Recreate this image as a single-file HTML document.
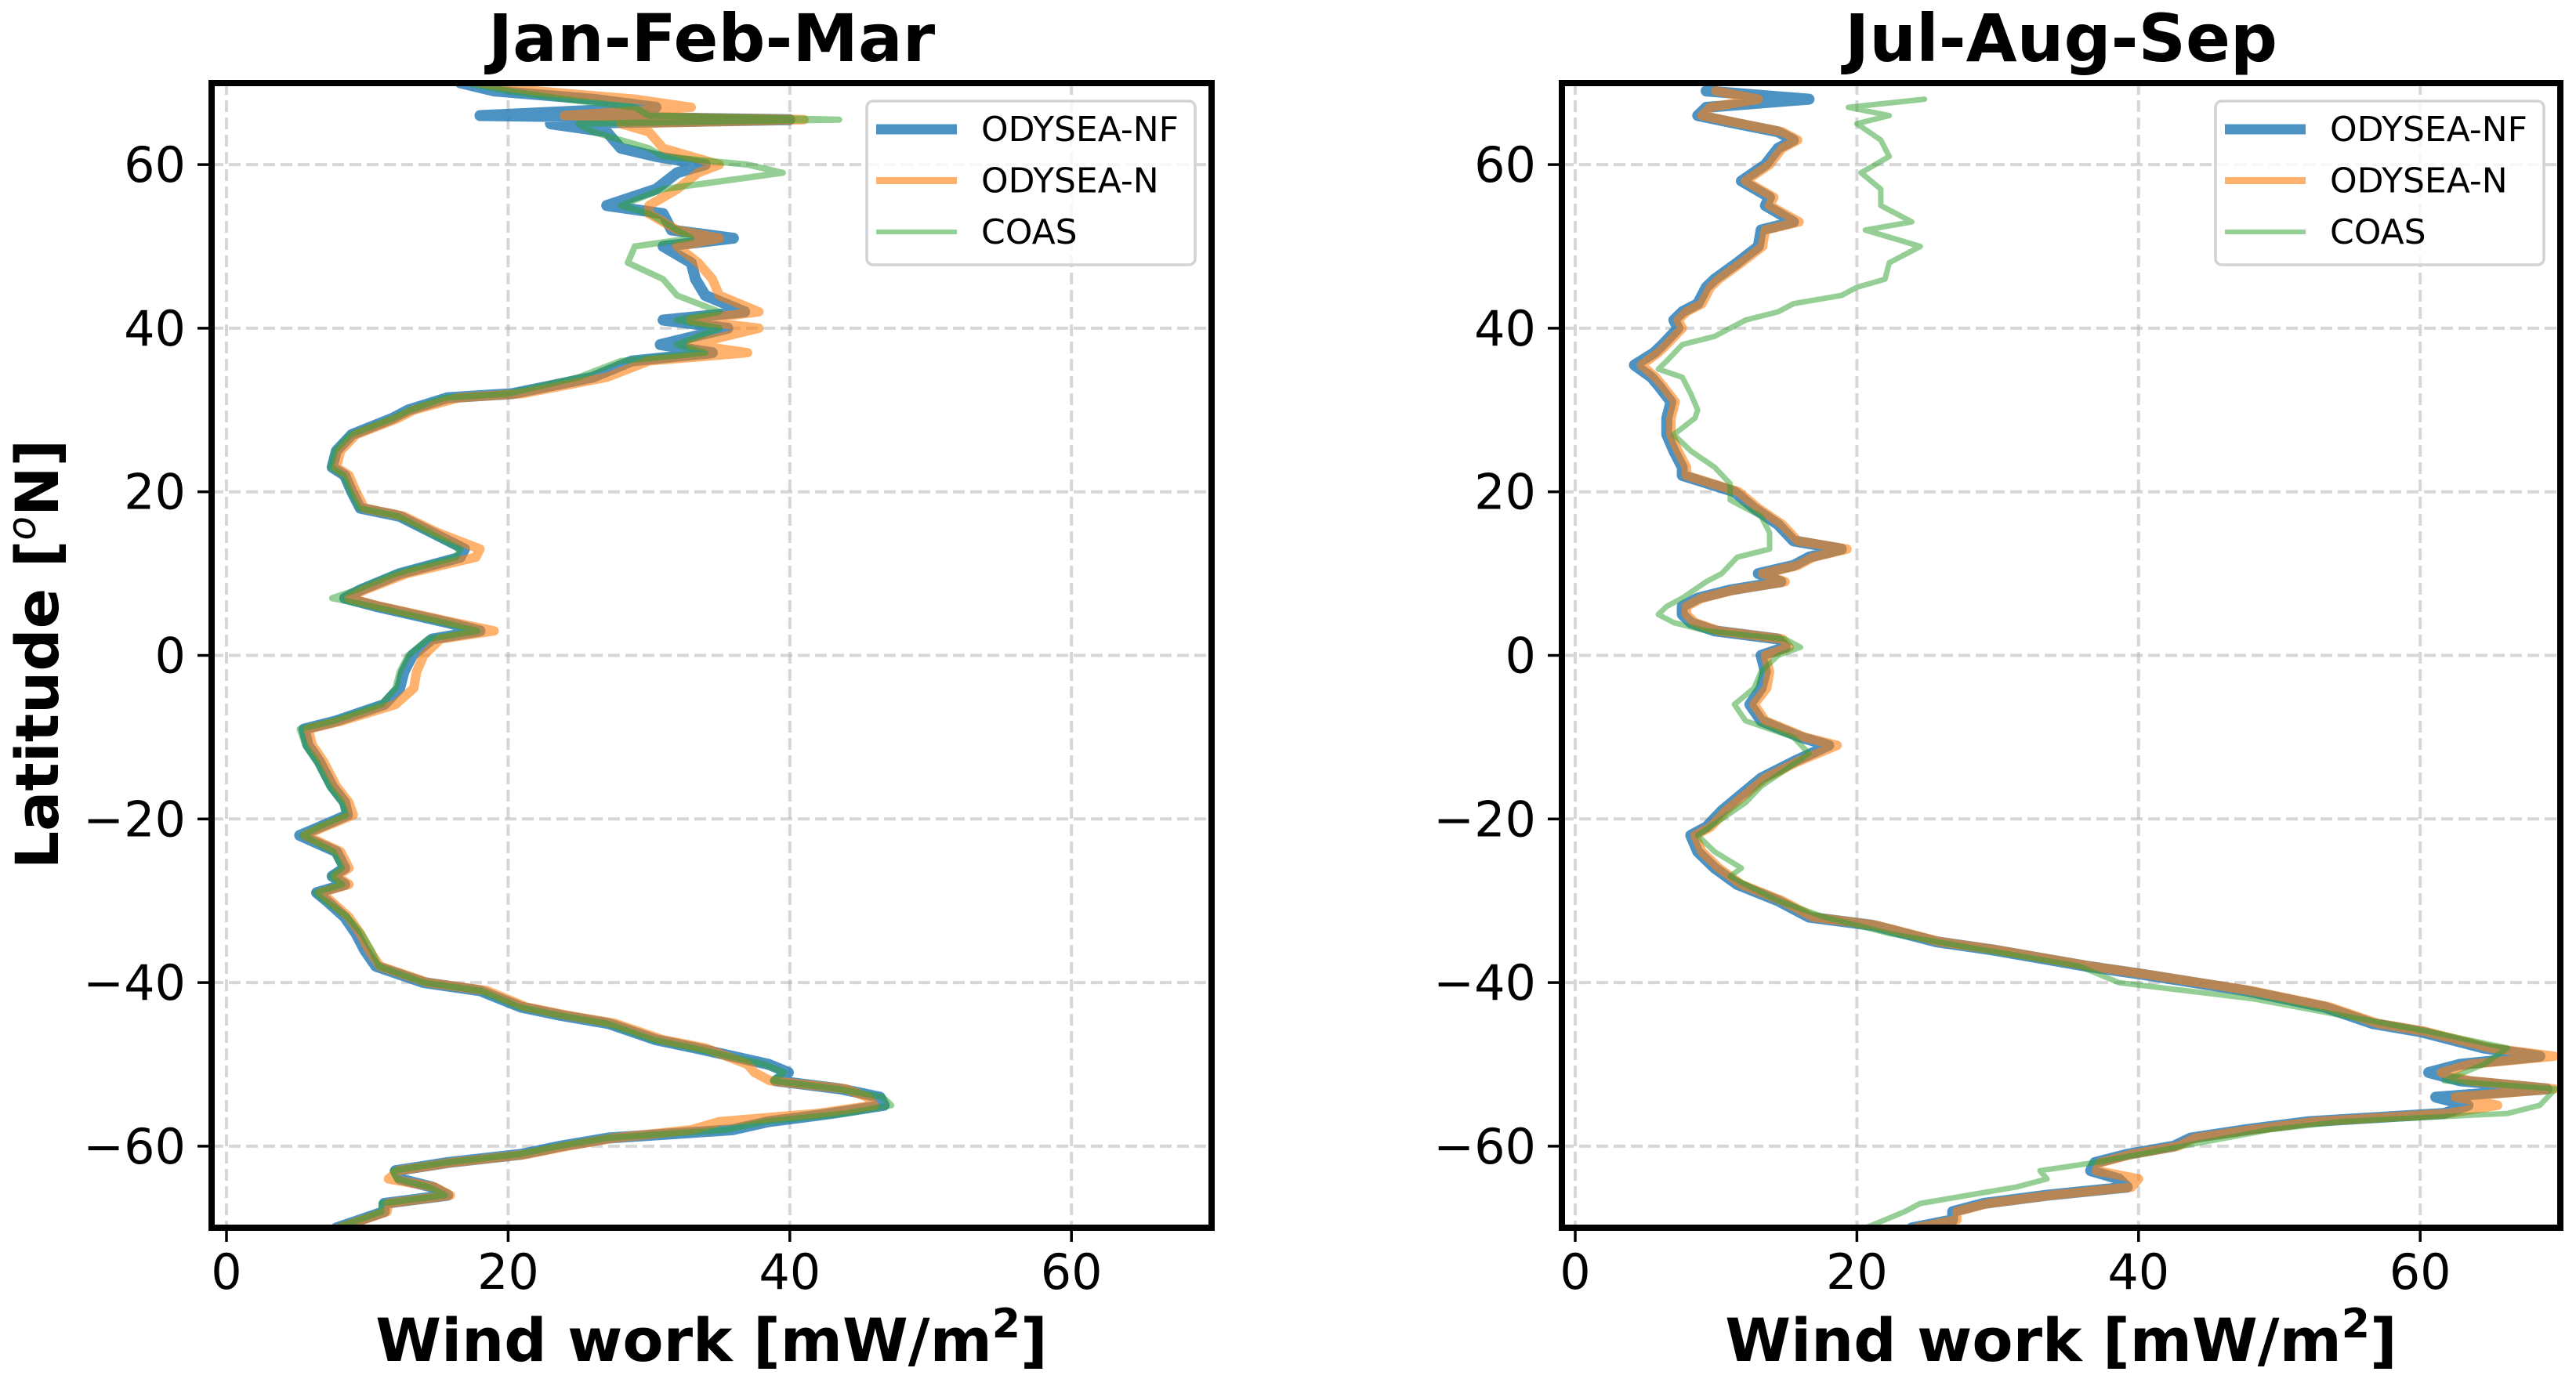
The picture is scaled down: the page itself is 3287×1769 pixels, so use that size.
<!DOCTYPE html>
<html><head><meta charset="utf-8"><style>
html,body{margin:0;padding:0;background:#fff;}
svg{display:block;font-family:"DejaVu Sans","Liberation Sans",sans-serif;}
</style></head><body>
<svg id="fig" width="3287" height="1769" viewBox="0 0 3287 1769" xmlns="http://www.w3.org/2000/svg">
<defs>
<clipPath id="clipL"><rect x="270" y="106" width="1276" height="1461"/></clipPath>
<clipPath id="clipR"><rect x="1993" y="106" width="1274" height="1461"/></clipPath>
</defs>
<g id="root"></g>
</svg>
<script>
// ---------- data: Jan-Feb-Mar ----------
const latsJFM = [70,69,68,67,66,65.5,65,64,62,61, 60,59,57,55,54,52,51,50,48,46, 44,42,41,40,38,37,36,34,32,31.5, 30,29,27,25,23,22,20,18,17,15, 13,12,10,8,7,6,4,3,2,0, -2,-4,-6,-8,-9,-11,-13,-16,-18,-19.5, -21,-22,-24,-26,-27,-28,-29,-30,-32,-34, -36,-38,-40,-41,-43,-44,-45,-47,-48,-50, -51,-52,-53,-54,-55,-56,-57,-58,-59,-60, -61,-62,-63,-64,-65,-66,-67,-68,-69,-70];
const nfJFM = [16.6,19,26,30.5,18,40,23,27,28,30.5, 34,32,30.5,27,31,31.6,36,31,33,33.3, 34,36.8,31,35.6,30.8,34.5,28.8,26,20.3,15.7, 12.9,11.8,8.9,7.8,7.5,8.4,8.9,9.5,12.3,14.6, 16.9,16.6,12.3,9.5,8.4,10.6,15.7,18,14.6,13.2, 12.6,12.3,11.2,7.8,5.5,5.8,6.6,7.5,8.4,8.6, 6.6,5.2,7.8,8.4,7.5,8.4,6.4,7.1,8.4,9.2, 9.8,10.6,14,18,20.9,23.7,27.1,30.5,33.3,38.5, 39.9,39,43.6,46.4,46.7,43,38.5,35.9,27.1,23.7, 20.9,15.7,12,12.3,14.6,15.7,11.2,11.2,9.5,7.8];
const nJFM = [18,22,29,33,24,41,28,30,31,33, 35,33.5,32,30,30,32,35,32,33.5,34.5, 35,37.8,33,37.8,33,37,30,27,21,16.5, 13.3,12.2,9.2,8.1,7.8,8.7,9.2,9.8,12.6,15, 18,17.7,12.8,9.8,8.7,10.9,16.2,19,15.2,14, 13.5,13.3,12,8.2,5.8,6.1,6.9,7.8,8.7,9, 6.9,5.6,8.1,8.7,7.8,8.7,6.7,7.4,8.7,9.5, 10.1,10.9,14.3,18.5,21.3,24.2,27.6,31,34,37, 37.5,38.6,44,45.5,46,42,35,33,27.5,24.2, 21.3,16,12.2,11.5,14.8,15.9,11.5,11.4,9.7,8];
const coasJFM = [17,20,24,29,30,43.5,25,26,30,31, 37,39.5,31,28,30,32,33,29,28.5,31, 32,35,32,35,32,34,28,25,20,15.5, 13,11.8,8.8,7.7,7.4,8.3,8.8,9.4,12.2,14.4, 16.6,16.3,12,9.2,7.5,10.3,15.4,17.8,14.3,12.9, 12.3,12,11,7.6,5.2,5.6,6.4,7.3,8.2,8.5, 6.5,5.4,7.6,8.2,7.4,8.2,6.3,7,8.6,9.6, 10.3,10.8,14,18,20.8,23.6,27,30.3,33.1,38.2, 39.6,38.8,43.4,46.6,47.2,44,38.2,35.5,27,23.5, 20.7,15.5,11.8,12.1,14.4,15.5,11,11,9.4,7.7];

// ---------- data: Jul-Aug-Sep ----------
const latsJAS = [69,68,67,66,65,64,63,62,60,58, 56,55,53,52,50,48,46,45,43,42, 41,40,38,37,35.5,34,33,31,29,27, 25,23,22,20,18,16,14,13,12,11, 10,9,8,7,6,5,4,3,2,1, 0,-2,-4,-6,-8,-10,-11,-13,-15,-17, -19,-21,-22,-24,-26,-28,-30,-32,-33,-35, -36,-38,-39,-41,-43,-45,-46,-48,-49,-50, -51,-52,-53,-54,-55,-56,-57,-58,-59,-60, -61,-62,-63,-64,-65,-66,-67,-68,-69,-70];
const nfJAS = [9.3,16.6,9.3,8.7,11.5,14.4,15.5,14.4,13.5,11.8, 13.8,13.5,15.5,13.2,13,11.5,9.9,9.3,8.7,7.6, 7.0,7.3,6.2,5.6,4.2,5.4,5.9,6.8,6.5,6.5, 7,7.6,7.6,11.3,12.7,14.4,15.5,18.9,16.6,15.5, 13,14.6,11,8.7,7.6,7.6,8.2,9.9,14.4,14.9, 13.2,13.5,13.2,12.4,13.2,16,18,15.5,13.2,11.8, 10.4,9.3,8.2,8.7,9.9,11.5,14.4,16.6,21.1,25.6, 29.6,36.3,40.3,47.6,53.2,56.6,60,64.5,68.5,62.8, 60.6,62.8,69,61.1,63.4,61.7,52.1,47.6,43.7,42.5, 39.2,36.9,36.6,38.6,39.2,33.5,29,26.8,26.8,23.9];
const nJAS = [10,13,9.6,9,11.8,14.7,15.8,14.7,13.8,12.1, 14.1,13.8,15.9,13.5,13.3,11.8,10.2,9.6,9,7.9, 7.3,7.6,6.5,5.9,4.7,5.7,6.2,7.1,6.8,6.8, 7.3,7.9,7.9,11.6,13,14.7,15.8,19.3,16.9,15.8, 13.3,14.9,11.3,9,7.9,7.9,8.5,10.2,14.7,15.2, 13.5,13.8,13.6,12.7,13.5,16.3,18.6,15.8,13.5,12.1, 10.7,9.6,8.5,9,10.2,11.8,14.7,16.9,21.4,25.9, 29.9,36.6,40.6,48,53.6,57,60.4,65,69.5,63.5, 61.5,63.5,69.5,62.5,65.5,62,52.5,48,44,42.8, 39.5,37.3,37,40,39.5,33.8,29.3,27.1,27.1,24.2];
const coasLatsJAS = [68,67,66,65,63,61,59,57,55,53, 52,50,48,46,45,44,43,42,41,40, 39,38,36,35,34,32,30,29,27,25, 23,21,19,17,15,13,12,10,9,7, 6,5,4,3,2,1,0,-2,-4,-6, -8,-10,-12,-14,-16,-18,-20,-22,-24,-26, -27,-28,-30,-32,-34,-36,-38,-40,-42,-44, -46,-48,-50,-52,-53,-55,-56,-57,-58,-60, -62,-63,-64,-65,-66,-67,-68,-70];
const coasJAS = [24.8,19.4,22.3,20,21.7,22.3,20.3,21.7,21.7,23.9, 20.6,24.5,22.3,22,20,18.9,15.5,14.4,12.1,11, 9.9,7.6,6.5,5.9,7.6,8.2,8.7,8.5,7,8.2, 9.9,11,11,13.2,13.8,13.8,11.5,10.4,9.3,7.6, 6.5,5.9,7,9.3,14.9,16,14.4,13.2,12.7,11.3, 12.1,15.5,16.6,14.9,13.2,12.1,10.4,8.7,9.9,11.8, 11,12.1,14.4,17.7,22.3,29,35.8,38.6,48.2,54.4, 60.6,66.2,64.5,61.7,69.6,68.5,66.2,54.4,49.3,43.1, 36.9,33,33.5,31.3,27.9,24.5,23.4,20.6];

const xTicks = [0,20,40,60];
const yTicks = [-60,-40,-20,0,20,40,60];
const yTickLabels = ["\u221260","\u221240","\u221220","0","20","40","60"];
const legendLabels = ["ODYSEA-NF","ODYSEA-N","COAS"];

const NS = "http://www.w3.org/2000/svg";
const rootG = document.getElementById('root');
function mk(tag, attrs, parent){ const e=document.createElementNS(NS,tag); for(const k in attrs) e.setAttribute(k,attrs[k]); (parent||rootG).appendChild(e); return e; }

const yScale = lat => 836.5 - lat*10.44;
const panels = [
 {title:"Jan-Feb-Mar", x0:270, x1:1546, zero:289, clip:"clipL", key:"jfm",
  series:[
   {lats:latsJFM, vals:nfJFM, color:"#1f77b4", op:0.8, w:14, name:"odysea-nf-line"},
   {lats:latsJFM, vals:nJFM, color:"#ff7f0e", op:0.6, w:12, name:"odysea-n-line"},
   {lats:latsJFM, vals:coasJFM, color:"#2ca02c", op:0.5, w:8, name:"coas-line"}]},
 {title:"Jul-Aug-Sep", x0:1993, x1:3267, zero:2010, clip:"clipR", key:"jas",
  series:[
   {lats:latsJAS, vals:nfJAS, color:"#1f77b4", op:0.8, w:14, name:"odysea-nf-line"},
   {lats:latsJAS, vals:nJAS, color:"#ff7f0e", op:0.6, w:12, name:"odysea-n-line"},
   {lats:coasLatsJAS, vals:coasJAS, color:"#2ca02c", op:0.5, w:7, name:"coas-line"}]}
];
const axTop=106, axBot=1567;

panels.forEach(p=>{
  const xs = v => p.zero + v*17.97;
  const g = mk('g',{});
  
  
  xTicks.forEach(t=>{
    const l=mk('line',{x1:xs(t),x2:xs(t),y1:axTop,y2:axBot,stroke:"#b0b0b0","stroke-opacity":0.5,"stroke-width":4,"stroke-dasharray":"15,7"},g);
    
    
  });
  yTicks.forEach(t=>{
    const l=mk('line',{x1:p.x0,x2:p.x1,y1:yScale(t),y2:yScale(t),stroke:"#b0b0b0","stroke-opacity":0.5,"stroke-width":4,"stroke-dasharray":"15,7"},g);
    
    
  });
  const sg = mk('g',{"clip-path":"url(#"+p.clip+")"},g);
  p.series.forEach(s=>{
    const d = s.lats.map((la,i)=>(i?'L':'M')+xs(s.vals[i]).toFixed(1)+','+yScale(la).toFixed(1)).join(' ');
    const path = mk('path',{d:d,fill:"none",stroke:s.color,"stroke-opacity":s.op,"stroke-width":s.w,"stroke-linejoin":"round","stroke-linecap":"round"},sg);
    
    
  });
  const fr = mk('rect',{x:p.x0,y:axTop,width:p.x1-p.x0,height:axBot-axTop,fill:"none",stroke:"#000","stroke-width":8},g);
  
  
  xTicks.forEach(t=>{
    mk('line',{x1:xs(t),x2:xs(t),y1:axBot+4,y2:axBot+18,stroke:"#000","stroke-width":3.5},g);
    const tx=mk('text',{x:xs(t),y:1645,"font-size":62,"text-anchor":"middle",fill:"#000"},g);
    tx.textContent=String(t);
    
    
  });
  yTicks.forEach((t,i)=>{
    mk('line',{x1:p.x0-18,x2:p.x0-4,y1:yScale(t),y2:yScale(t),stroke:"#000","stroke-width":3.5},g);
    const tx=mk('text',{x:p.x0-33,y:yScale(t)+22,"font-size":62,"text-anchor":"end",fill:"#000"},g);
    tx.textContent=yTickLabels[i];
    
    
  });
  const cx=(p.x0+p.x1)/2;
  const ti=mk('text',{x:cx,y:78,"font-size":84,"font-weight":"bold","text-anchor":"middle",fill:"#000"},g);
  ti.textContent=p.title;
  
  
  const xl=mk('text',{x:cx,y:1737,"font-size":76,"font-weight":"bold","text-anchor":"middle",fill:"#000"},g);
  
  
  xl.appendChild(document.createTextNode("Wind work [mW/m"));
  const sup=mk('tspan',{"font-size":52,"baseline-shift":"super"},xl); sup.textContent="2";
  xl.appendChild(document.createTextNode("]"));
  const lx=p.x1-440;
  const lg=mk('g',{},g);
  
  
  mk('rect',{x:lx,y:129,width:419,height:209,rx:8,fill:"#fff","fill-opacity":0.8,stroke:"#d3d3d3","stroke-width":3.5},lg);
  const legStyle=[["#1f77b4",0.8,13],["#ff7f0e",0.6,9],["#2ca02c",0.5,6]];
  legendLabels.forEach((lab,i)=>{
    const yy=165+i*65.5;
    const ln=mk('line',{x1:lx+12,x2:lx+115,y1:yy,y2:yy,stroke:legStyle[i][0],"stroke-opacity":legStyle[i][1],"stroke-width":legStyle[i][2]},lg);
    
    
    const tx=mk('text',{x:lx+146,y:yy+15,"font-size":44,fill:"#000"},lg);
    tx.textContent=lab;
    
    
  });
});
const yl=mk('text',{x:0,y:0,"font-size":76,"font-weight":"bold","text-anchor":"middle",fill:"#000",transform:"translate(74,835) rotate(-90)"});


yl.appendChild(document.createTextNode("Latitude ["));
const so=mk('tspan',{"font-size":50,"baseline-shift":"super","font-style":"italic","font-weight":"normal"},yl); so.textContent="o";
yl.appendChild(document.createTextNode("N]"));
</script>
</body></html>
